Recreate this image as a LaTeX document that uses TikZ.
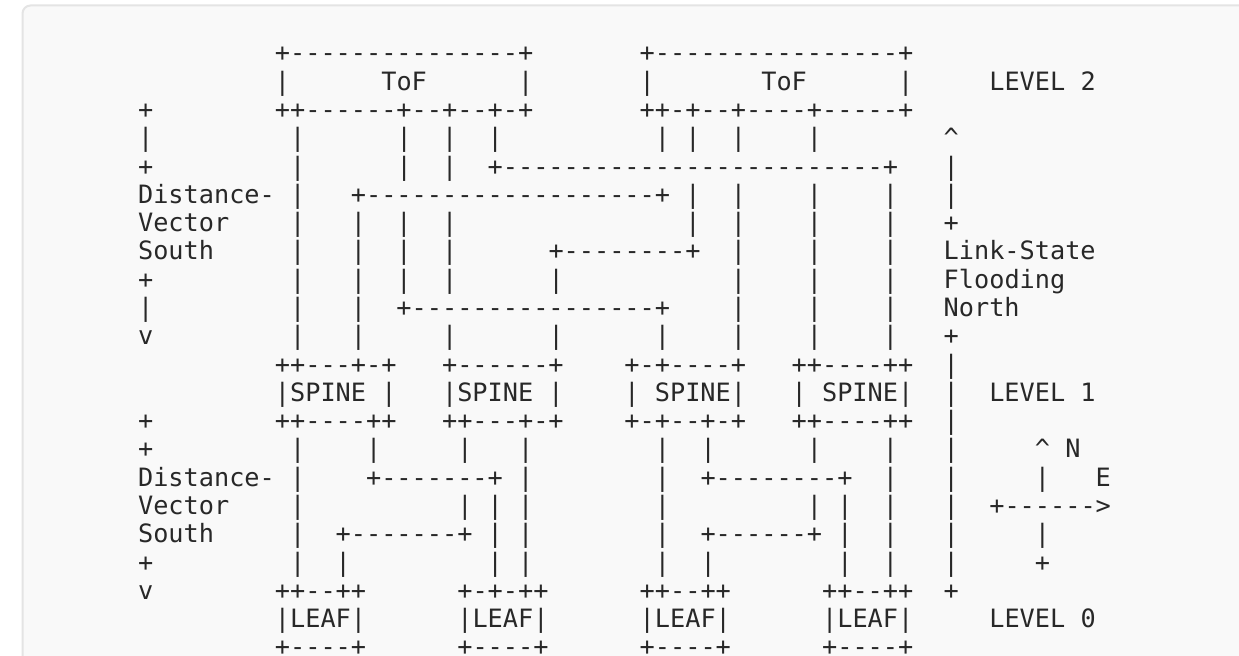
\documentclass[tikz,border=0pt]{standalone}
\usepackage{fontspec}
\setmonofont{DejaVu Sans Mono}
\definecolor{ink}{RGB}{40,40,40}
\definecolor{codebg}{RGB}{249,249,249}
\definecolor{codeborder}{RGB}{228,228,228}
\newcommand\Sp[1]{\hbox to \dimexpr 0.60205em*#1\relax{}}
\newcommand\Hat{\textasciicircum}
\newcommand\rowtext[3]{\node[rowstyle] (#1) at (138.1,{52.7+28.29*#2+9.2}) {#3};}
\begin{document}
\begin{tikzpicture}[x=0.5pt,y=-0.5pt,
  rowstyle/.style={anchor=base west, inner sep=0pt, outer sep=0pt,
    font=\ttfamily\fontsize{12.624pt}{14pt}\selectfont, text=ink}]
\useasboundingbox (0,0) rectangle (1239,656);
\clip (0,0) rectangle (1239,656);
\fill[white] (0,0) rectangle (1239,656);
\draw[codeborder, fill=codebg, rounded corners=4, line width=1pt] (22.5,5.5) rectangle (1260,700);
\rowtext{r0}{0}{\Sp{9}+---------------+\Sp{7}+----------------+}
\rowtext{r1}{1}{\Sp{9}|\Sp{6}ToF\Sp{6}|\Sp{7}|\Sp{7}ToF\Sp{6}|\Sp{5}LEVEL\Sp{1}2}
\rowtext{r2}{2}{+\Sp{8}++------+--+--+-+\Sp{7}++-+--+----+-----+}
\rowtext{r3}{3}{|\Sp{9}|\Sp{6}|\Sp{2}|\Sp{2}|\Sp{10}|\Sp{1}|\Sp{2}|\Sp{4}|\Sp{8}\Hat{}}
\rowtext{r4}{4}{+\Sp{9}|\Sp{6}|\Sp{2}|\Sp{2}+-------------------------+\Sp{3}|}
\rowtext{r5}{5}{Distance-\Sp{1}|\Sp{3}+-------------------+\Sp{1}|\Sp{2}|\Sp{4}|\Sp{4}|\Sp{3}|}
\rowtext{r6}{6}{Vector\Sp{4}|\Sp{3}|\Sp{2}|\Sp{2}|\Sp{15}|\Sp{2}|\Sp{4}|\Sp{4}|\Sp{3}+}
\rowtext{r7}{7}{South\Sp{5}|\Sp{3}|\Sp{2}|\Sp{2}|\Sp{6}+--------+\Sp{2}|\Sp{4}|\Sp{4}|\Sp{3}Link-State}
\rowtext{r8}{8}{+\Sp{9}|\Sp{3}|\Sp{2}|\Sp{2}|\Sp{6}|\Sp{11}|\Sp{4}|\Sp{4}|\Sp{3}Flooding}
\rowtext{r9}{9}{|\Sp{9}|\Sp{3}|\Sp{2}+----------------+\Sp{4}|\Sp{4}|\Sp{4}|\Sp{3}North}
\rowtext{r10}{10}{v\Sp{9}|\Sp{3}|\Sp{5}|\Sp{6}|\Sp{6}|\Sp{4}|\Sp{4}|\Sp{4}|\Sp{3}+}
\rowtext{r11}{11}{\Sp{9}++---+-+\Sp{3}+------+\Sp{4}+-+----+\Sp{3}++----++\Sp{2}|}
\rowtext{r12}{12}{\Sp{9}|SPINE\Sp{1}|\Sp{3}|SPINE\Sp{1}|\Sp{4}|\Sp{1}SPINE|\Sp{3}|\Sp{1}SPINE|\Sp{2}|\Sp{2}LEVEL\Sp{1}1}
\rowtext{r13}{13}{+\Sp{8}++----++\Sp{3}++---+-+\Sp{4}+-+--+-+\Sp{3}++----++\Sp{2}|}
\rowtext{r14}{14}{+\Sp{9}|\Sp{4}|\Sp{5}|\Sp{3}|\Sp{8}|\Sp{2}|\Sp{6}|\Sp{4}|\Sp{3}|\Sp{5}\Hat{}\Sp{1}N}
\rowtext{r15}{15}{Distance-\Sp{1}|\Sp{4}+-------+\Sp{1}|\Sp{8}|\Sp{2}+--------+\Sp{2}|\Sp{3}|\Sp{5}|\Sp{3}E}
\rowtext{r16}{16}{Vector\Sp{4}|\Sp{10}|\Sp{1}|\Sp{1}|\Sp{8}|\Sp{9}|\Sp{1}|\Sp{2}|\Sp{3}|\Sp{2}+------>}
\rowtext{r17}{17}{South\Sp{5}|\Sp{2}+-------+\Sp{1}|\Sp{1}|\Sp{8}|\Sp{2}+------+\Sp{1}|\Sp{2}|\Sp{3}|\Sp{5}|}
\rowtext{r18}{18}{+\Sp{9}|\Sp{2}|\Sp{9}|\Sp{1}|\Sp{8}|\Sp{2}|\Sp{8}|\Sp{2}|\Sp{3}|\Sp{5}+}
\rowtext{r19}{19}{v\Sp{8}++--++\Sp{6}+-+-++\Sp{6}++--++\Sp{6}++--++\Sp{2}+}
\rowtext{r20}{20}{\Sp{9}|LEAF|\Sp{6}|LEAF|\Sp{6}|LEAF|\Sp{6}|LEAF|\Sp{5}LEVEL\Sp{1}0}
\rowtext{r21}{21}{\Sp{9}+----+\Sp{6}+----+\Sp{6}+----+\Sp{6}+----+}
\end{tikzpicture}
\end{document}
